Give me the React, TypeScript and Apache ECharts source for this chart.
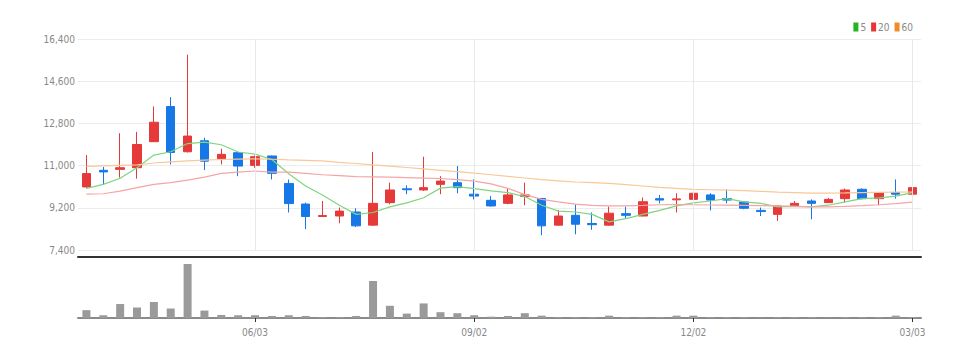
import React, { useEffect, useRef } from 'react';
import * as echarts from 'echarts';

const dates = [
  '03/25', '04/01', '04/08', '04/15', '04/22', '04/29', '05/06', '05/13', '05/20', '05/27',
  '06/03', '06/10', '06/17', '06/24', '07/01', '07/08', '07/15', '07/22', '07/29', '08/05',
  '08/12', '08/19', '08/26', '09/02', '09/09', '09/16', '09/23', '09/30', '10/07', '10/14',
  '10/21', '10/28', '11/04', '11/11', '11/18', '11/25', '12/02', '12/09', '12/16', '12/23',
  '12/30', '01/06', '01/13', '01/20', '01/27', '02/03', '02/10', '02/17', '02/24', '03/03',
];

const opens = [
  10090, 10800, 10840, 10910, 12020, 13520, 11590, 12060, 11290, 11550,
  11010, 11410, 10240, 9360, 8830, 8850, 9020, 8460, 9420, 10010,
  9960, 10200, 10270, 9780, 9520, 9390, 9680, 9600, 8460, 8880,
  8530, 8460, 8950, 8850, 9590, 9540, 9560, 9750, 9600, 9450,
  9090, 8920, 9280, 9490, 9420, 9590, 9990, 9590, 9850, 9780,
];
const closes = [
  10660, 10730, 10910, 11900, 12850, 11560, 12260, 11190, 11480, 10980,
  11380, 10670, 9380, 8830, 8870, 9060, 8430, 9390, 9960, 9970,
  10060, 10340, 10060, 9700, 9280, 9750, 9750, 8430, 8850, 8500,
  8480, 8970, 8880, 9460, 9530, 9580, 9820, 9530, 9530, 9180,
  9040, 9280, 9390, 9390, 9560, 9960, 9590, 9850, 9780, 10060,
];
const lows = [
  10030, 10170, 10490, 10440, 12010, 11050, 11560, 10810, 11050, 10550,
  10910, 10410, 9000, 8290, 8830, 8540, 8380, 8430, 9350, 9780,
  9920, 9780, 9820, 9560, 9250, 9350, 9310, 8030, 8440, 8070,
  8260, 8440, 8740, 8840, 9390, 9000, 9110, 9090, 9390, 9140,
  8850, 8640, 9280, 8710, 9410, 9420, 9560, 9310, 9590, 9560,
];
const highs = [
  11450, 10940, 12380, 12440, 13520, 13920, 15730, 12190, 11720, 11620,
  11430, 11430, 10410, 9420, 9490, 9210, 9180, 11580, 10270, 10160,
  11380, 10550, 10980, 10410, 9700, 10020, 10270, 9620, 9110, 9350,
  9000, 9250, 9250, 9640, 9750, 9820, 9990, 9820, 9990, 9490,
  9210, 9310, 9490, 9560, 9620, 10020, 10030, 9860, 10410, 10100,
];

const volumes = [
  77, 27, 137, 103, 157, 93, 530, 73, 30, 27,
  27, 20, 27, 20, 10, 10, 20, 363, 120, 43,
  143, 57, 47, 27, 13, 20, 47, 23, 10, 10,
  10, 23, 10, 10, 10, 23, 23, 10, 10, 10,
  4, 10, 10, 10, 4, 10, 10, 10, 23, 10,
];

const ma5 = [
  10030, 10200, 10460, 10910, 11450, 11590, 11940, 12000, 11890, 11580,
  11490, 11260, 10650, 10130, 9750, 9310, 8920, 9000, 9240, 9410,
  9630, 10040, 10100, 10020, 9920, 9850, 9680, 9310, 9060, 9020,
  8920, 8600, 8740, 8920, 9090, 9280, 9410, 9490, 9590, 9450,
  9390, 9240, 9260, 9240, 9310, 9450, 9590, 9620, 9700, 9850,
];
const ma20 = [
  9780, 9800, 9910, 10060, 10200, 10270, 10380, 10510, 10670, 10720,
  10770, 10720, 10720, 10670, 10610, 10570, 10530, 10520, 10510, 10490,
  10470, 10450, 10400, 10340, 10220, 10030, 9760, 9560, 9450, 9360,
  9300, 9280, 9280, 9300, 9330, 9340, 9330, 9320, 9310, 9300,
  9290, 9280, 9260, 9240, 9240, 9260, 9290, 9330, 9380, 9440,
];
const ma60 = [
  10970, 10990, 11010, 11030, 11110, 11160, 11200, 11230, 11260, 11280,
  11290, 11270, 11240, 11220, 11200, 11140, 11090, 11030, 10980, 10920,
  10860, 10800, 10740, 10680, 10610, 10540, 10470, 10400, 10350, 10300,
  10270, 10240, 10190, 10130, 10070, 10030, 9990, 9970, 9950, 9930,
  9900, 9870, 9850, 9830, 9830, 9835, 9845, 9855, 9865, 9875,
];

const tickLabels = ['06/03', '09/02', '12/02', '03/03'];
const priceMin = 7400;
const priceMax = 16400;
const priceStep = 1800;

const RED = '#e63a3a';
const BLUE = '#1677e6';
const FONT = "'DejaVu Sans Condensed', 'Liberation Sans Narrow', 'Roboto Condensed', 'Arial Narrow', Roboto, sans-serif";

export default function App() {
  const ref = useRef<HTMLDivElement>(null);
  useEffect(() => {
    const chart = echarts.init(ref.current!, null, { renderer: 'svg' });
    const showAt = (_i: number, v: string) => tickLabels.includes(v);
    chart.setOption({
      animation: false,
      backgroundColor: '#ffffff',
      legend: {
        data: [
          { name: '5', itemStyle: { color: '#22b422' } },
          { name: '20', itemStyle: { color: '#e53535' } },
          { name: '60', itemStyle: { color: '#f08c28' } },
        ],
        right: 54,
        top: 17,
        icon: 'rect',
        itemWidth: 5,
        itemHeight: 9,
        itemGap: 5,
        textStyle: { color: '#888', fontSize: 10, fontFamily: FONT, padding: [0, 0, 0, -3] },
      },
      grid: [
        { left: 78, right: 51, top: 39, height: 211 },
        { left: 78, right: 51, top: 264, height: 54 },
      ],
      xAxis: [
        {
          type: 'category',
          gridIndex: 0,
          data: dates,
          boundaryGap: true,
          offset: 7,
          axisLine: { lineStyle: { color: '#333', width: 2 } },
          axisTick: { show: false },
          axisLabel: { show: false },
          splitLine: { show: false },
        },
        {
          type: 'category',
          gridIndex: 1,
          data: dates,
          boundaryGap: true,
          axisLine: { lineStyle: { color: '#8a8a8a', width: 2 } },
          axisTick: { show: true, interval: showAt, alignWithLabel: true, length: 4, lineStyle: { color: '#333' } },
          axisLabel: { interval: showAt, color: '#888', fontSize: 10, fontFamily: FONT, margin: 9 },
          splitLine: { show: false },
        },
      ],
      yAxis: [
        {
          type: 'value',
          gridIndex: 0,
          min: priceMin,
          max: priceMax,
          interval: priceStep,
          axisLine: { show: false },
          axisTick: { show: false },
          axisLabel: {
            color: '#888',
            fontSize: 10,
            fontFamily: FONT,
            margin: 3,
            formatter: (v: number) => v.toLocaleString('en-US'),
          },
          splitLine: { lineStyle: { color: '#ececec', width: 1 } },
        },
        {
          type: 'value',
          gridIndex: 1,
          min: 0,
          max: 'dataMax',
          show: false,
          splitLine: { show: false },
        },
      ],
      series: [
        {
          name: 'vgrid',
          type: 'line',
          xAxisIndex: 0,
          yAxisIndex: 0,
          data: [],
          z: 0,
          silent: true,
          markLine: {
            silent: true,
            symbol: ['none', 'none'],
            label: { show: false },
            lineStyle: { color: '#e8e8e8', type: 'solid', width: 1 },
            data: tickLabels.map((t) => ({ xAxis: t })),
          },
        },
        {
          name: 'price',
          type: 'candlestick',
          xAxisIndex: 0,
          yAxisIndex: 0,
          barWidth: 9,
          z: 3,
          data: dates.map((_, i) => [opens[i], closes[i], lows[i], highs[i]]),
          itemStyle: {
            color: RED,
            color0: BLUE,
            borderColor: RED,
            borderColor0: BLUE,
            borderWidth: 1,
          },
        },
        {
          name: '5',
          type: 'line',
          data: ma5,
          showSymbol: false,
          z: 4,
          itemStyle: { color: '#22b422' },
          lineStyle: { color: '#80d480', width: 1.2 },
        },
        {
          name: '20',
          type: 'line',
          data: ma20,
          showSymbol: false,
          z: 4,
          itemStyle: { color: '#e53535' },
          lineStyle: { color: '#f5a5a5', width: 1.2 },
        },
        {
          name: '60',
          type: 'line',
          data: ma60,
          showSymbol: false,
          z: 4,
          itemStyle: { color: '#f08c28' },
          lineStyle: { color: '#f8c898', width: 1.2 },
        },
        {
          name: 'volume',
          type: 'bar',
          xAxisIndex: 1,
          yAxisIndex: 1,
          barWidth: 8,
          data: volumes,
          itemStyle: { color: '#9a9a9a' },
        },
      ],
    });
    return () => chart.dispose();
  }, []);
  return <div ref={ref} style={{ position: 'fixed', left: 0, top: 0, width: 972, height: 357 }} />;
}
